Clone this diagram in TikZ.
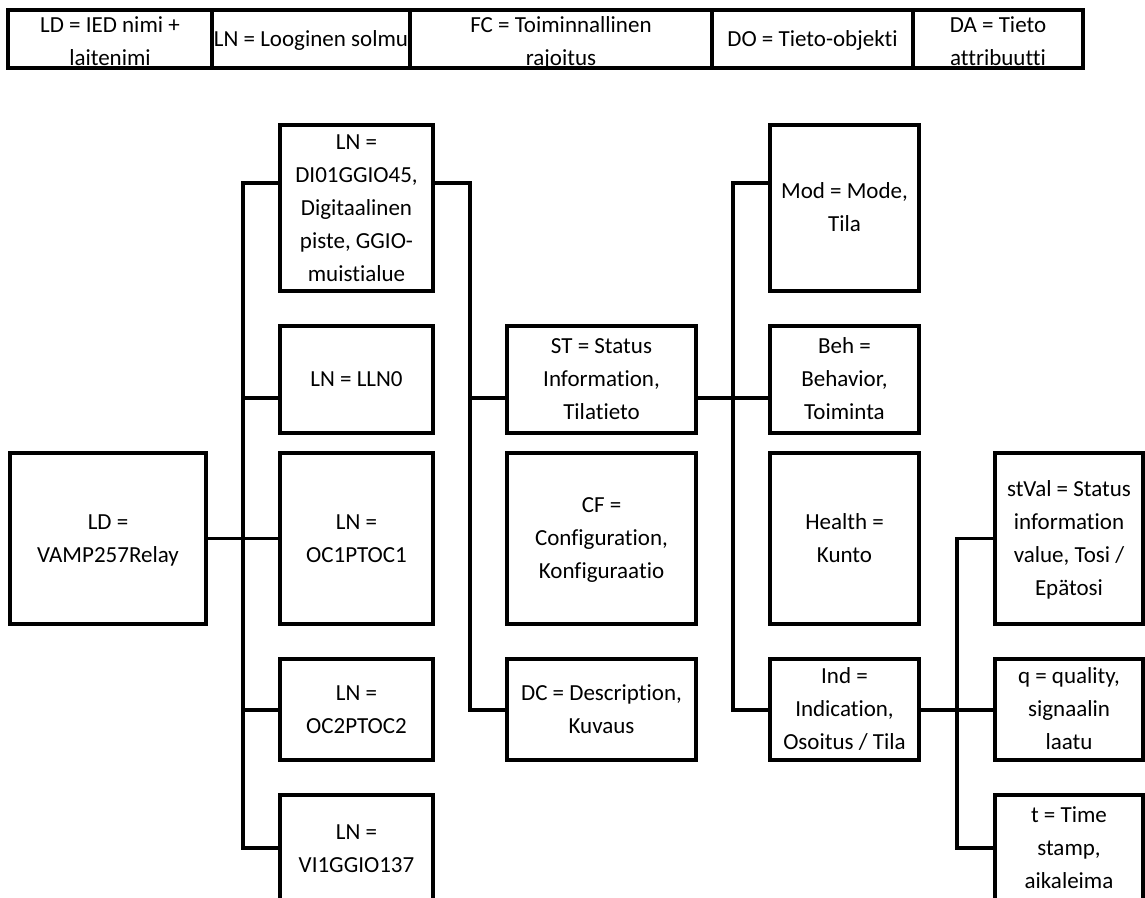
\documentclass[tikz,border=0pt]{standalone}
\usepackage{fontspec}
\setmainfont{Carlito}[Ligatures=NoCommon]
\begin{document}
\begin{tikzpicture}[x=0.75pt,y=-0.75pt,
  bx/.style={draw, line width=2.6pt, inner sep=0pt, outer sep=0pt, align=center,
    anchor=center, font=\fontsize{17.25}{24.75}\selectfont, text height=11pt, text depth=0pt},
  l2/.style={text height=35.75pt},
  l2t/.style={text height=40.25pt},
  l3/.style={text height=60.5pt},
  l4/.style={text height=85.25pt},
  l5/.style={text height=110pt},
  hTop/.style={minimum height=43.5pt},
  hBig/.style={minimum height=128.25pt},
  hUp/.style={minimum height=124.5pt},
  hS/.style={minimum height=80.25pt},
  hM/.style={minimum height=75.75pt},
  wLN/.style={minimum width=114.75pt},
  wFC/.style={minimum width=141.75pt},
  wDO/.style={minimum width=111.75pt},
  wDA/.style={minimum width=111pt},
  ln/.style={line width=2.6pt}]
\fill[white] (0,0) rectangle (1145,897);
\useasboundingbox (0,0) rectangle (1145,897);
\clip (0,0) rectangle (1145,897);

% legend row
\node[bx, l2t, hTop, minimum width=153pt] (T1) at (110,39) {LD = IED nimi +\\laitenimi};
\node[bx, hTop, minimum width=148.5pt] (T2) at (311,39) {LN = Looginen solmu};
\node[bx, l2t, hTop, minimum width=226.5pt] (T3) at (561,39) {FC = Toiminnallinen\\rajoitus};
\node[bx, hTop, minimum width=150.75pt] (T4) at (812.5,39) {DO = Tieto-objekti};
\node[bx, l2t, hTop, minimum width=127.5pt] (T5) at (998,39) {DA = Tieto\\attribuutti};

% LD
\node[bx, l2, hBig, minimum width=147pt] (LD) at (108,538.5) {LD =\\VAMP257Relay};
% LN column
\node[bx, l5, hUp, wLN] (DI01) at (356.5,208) {LN =\\DI01GGIO45,\\Digitaalinen\\piste, GGIO-\\muistialue};
\node[bx, hS, wLN] (LLN0) at (356.5,379.5) {LN = LLN0};
\node[bx, l2, hBig, wLN] (OC1) at (356.5,538.5) {LN =\\OC1PTOC1};
\node[bx, l2, hM, wLN] (OC2) at (356.5,709.5) {LN =\\OC2PTOC2};
\node[bx, l2, hS, wLN] (VI1) at (356.5,848.5) {LN =\\VI1GGIO137};
% FC column
\node[bx, l3, hS, wFC] (ST) at (601.5,379.5) {ST = Status\\Information,\\Tilatieto};
\node[bx, l3, hBig, wFC] (CF) at (601.5,538.5) {CF =\\Configuration,\\Konfiguraatio};
\node[bx, l2, hM, wFC] (DC) at (601.5,709.5) {DC = Description,\\Kuvaus};
% DO column
\node[bx, l2, hUp, wDO] (Mod) at (844.5,208) {Mod = Mode,\\Tila};
\node[bx, l3, hS, wDO] (Beh) at (844.5,379.5) {Beh =\\Behavior,\\Toiminta};
\node[bx, l2, hBig, wDO] (Health) at (844.5,538.5) {Health =\\Kunto};
\node[bx, l3, hM, wDO] (Ind) at (844.5,709.5) {Ind =\\Indication,\\Osoitus / Tila};
% DA column
\node[bx, l4, hBig, wDA] (stVal) at (1069,538.5) {stVal = Status\\information\\value, Tosi /\\Epätosi};
\node[bx, l3, hM, wDA] (q) at (1069,709.5) {q = quality,\\signaalin\\laatu};
\node[bx, l3, hS, wDA] (t) at (1069,848.5) {t = Time\\stamp,\\aikaleima};

% trunk coordinates
\coordinate (A1) at (243,183); \coordinate (A2) at (243,848);
\coordinate (B1) at (470,183); \coordinate (B2) at (470,710);
\coordinate (C1) at (733,183); \coordinate (C2) at (733,710);
\coordinate (D1) at (957,538.5); \coordinate (D2) at (957,848);
\coordinate (rST) at (0,398);

% connectors
\draw[ln] (DI01.west |- A1) -- (A1) -- (A2) -- (VI1.west |- A2);
\draw[ln] (A1 |- rST) -- (LLN0.west |- rST);
\draw[ln] (LD.east) -- (OC1.west);
\draw[ln] (A1 |- B2) -- (OC2.west |- B2);
\draw[ln] (DI01.east |- B1) -- (B1) -- (B2) -- (DC.west |- B2);
\draw[ln] (B1 |- rST) -- (ST.west |- rST);
\draw[ln] (ST.east |- rST) -- (Beh.west |- rST);
\draw[ln] (Mod.west |- C1) -- (C1) -- (C2) -- (Ind.west |- C2);
\draw[ln] (Ind.east |- C2) -- (q.west |- C2);
\draw[ln] (stVal.west |- D1) -- (D1) -- (D2) -- (t.west |- D2);
\end{tikzpicture}
\end{document}
